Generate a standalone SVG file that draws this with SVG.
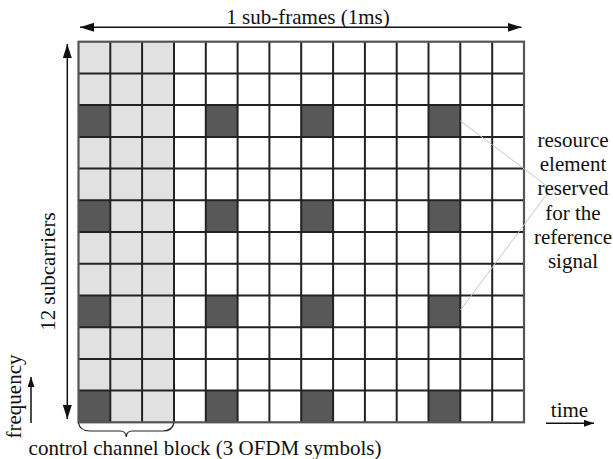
<svg xmlns="http://www.w3.org/2000/svg" width="613" height="459" viewBox="0 0 613 459">
<style>
text{font-family:"Liberation Serif","Times New Roman",serif;font-size:21px;fill:#111}
.light{fill:#e1e1e1}
.dark{fill:#585858}
.grid{fill:none;stroke:#222;stroke-width:2}
.border{fill:none;stroke:#555;stroke-width:2.2}
.arrow{stroke:#111;stroke-width:1.5;fill:none}
.leader{stroke:#c4c4c4;stroke-width:1;fill:none}
.brace{stroke:#222;stroke-width:1.2;fill:none}
</style>
<defs>
<marker id="ah" markerUnits="userSpaceOnUse" markerWidth="15" markerHeight="10" refX="14" refY="4.5" orient="auto-start-reverse">
<path d="M0,0 L14,4.5 L0,9 Z" fill="#111"/>
</marker>
<marker id="ahs" markerUnits="userSpaceOnUse" markerWidth="11" markerHeight="8" refX="10" refY="3.5" orient="auto-start-reverse">
<path d="M0,0 L10,3.5 L0,7 Z" fill="#111"/>
</marker>
</defs>
<rect width="613" height="459" fill="#fff"/>
<g id="resource-grid">
<rect class="light" x="78.5" y="41.7" width="95.5" height="380.6"/>
<rect class="dark" x="78.5" y="105.1" width="31.8" height="31.7"/>
<rect class="dark" x="205.8" y="105.1" width="31.8" height="31.7"/>
<rect class="dark" x="301.2" y="105.1" width="31.8" height="31.7"/>
<rect class="dark" x="428.5" y="105.1" width="31.8" height="31.7"/>
<rect class="dark" x="78.5" y="200.3" width="31.8" height="31.7"/>
<rect class="dark" x="205.8" y="200.3" width="31.8" height="31.7"/>
<rect class="dark" x="301.2" y="200.3" width="31.8" height="31.7"/>
<rect class="dark" x="428.5" y="200.3" width="31.8" height="31.7"/>
<rect class="dark" x="78.5" y="295.5" width="31.8" height="31.7"/>
<rect class="dark" x="205.8" y="295.5" width="31.8" height="31.7"/>
<rect class="dark" x="301.2" y="295.5" width="31.8" height="31.7"/>
<rect class="dark" x="428.5" y="295.5" width="31.8" height="31.7"/>
<rect class="dark" x="78.5" y="390.6" width="31.8" height="31.7"/>
<rect class="dark" x="205.8" y="390.6" width="31.8" height="31.7"/>
<rect class="dark" x="301.2" y="390.6" width="31.8" height="31.7"/>
<rect class="dark" x="428.5" y="390.6" width="31.8" height="31.7"/>
<path class="grid" d="M110.3,41.7V422.3 M142.1,41.7V422.3 M174,41.7V422.3 M205.8,41.7V422.3 M237.6,41.7V422.3 M269.4,41.7V422.3 M301.2,41.7V422.3 M333.1,41.7V422.3 M364.9,41.7V422.3 M396.7,41.7V422.3 M428.5,41.7V422.3 M460.3,41.7V422.3 M492.2,41.7V422.3 M78.5,73.4H524 M78.5,105.1H524 M78.5,136.9H524 M78.5,168.6H524 M78.5,200.3H524 M78.5,232H524 M78.5,263.7H524 M78.5,295.5H524 M78.5,327.2H524 M78.5,358.9H524 M78.5,390.6H524"/>
<rect class="border" x="78.5" y="41.7" width="445.5" height="380.6"/>
</g>
<g id="connectors">
<line class="arrow" x1="80" y1="27.3" x2="521.5" y2="27.3" marker-start="url(#ah)" marker-end="url(#ah)"/>
<line class="arrow" x1="67.3" y1="44" x2="67.3" y2="419" marker-start="url(#ah)" marker-end="url(#ah)"/>
<line class="arrow" x1="31" y1="423" x2="31" y2="377" marker-end="url(#ahs)"/>
<line class="arrow" x1="546" y1="423.3" x2="594" y2="423.3" marker-end="url(#ahs)"/>
<path class="brace" d="M78.5,423 Q80,431 90,431 L120,431 Q126,431 126.3,437 Q126.6,431 132,431 L163,431 Q172,431 174,423"/>
<line class="leader" x1="460.5" y1="121" x2="547" y2="186"/>
<line class="leader" x1="460.5" y1="310" x2="550" y2="190"/>
</g>
<g id="title-label"><text x="308" y="24" text-anchor="middle">1 sub-frames (1ms)</text></g>
<g id="subcarriers-label"><text transform="translate(55,271.5) rotate(-90)" text-anchor="middle">12 subcarriers</text></g>
<g id="frequency-label"><text transform="translate(21,396.5) rotate(-90)" text-anchor="middle">frequency</text></g>
<g id="time-label"><text x="569.5" y="416.5" text-anchor="middle">time</text></g>
<g id="control-label"><text x="205" y="455" text-anchor="middle">control channel block (3 OFDM symbols)</text></g>
<g id="reference-label">
<text x="573" y="146.7" text-anchor="middle">resource</text>
<text x="573" y="171" text-anchor="middle">element</text>
<text x="573" y="195.3" text-anchor="middle">reserved</text>
<text x="573" y="219.6" text-anchor="middle">for the</text>
<text x="573" y="243.9" text-anchor="middle">reference</text>
<text x="573" y="268.2" text-anchor="middle">signal</text>
</g>
</svg>
